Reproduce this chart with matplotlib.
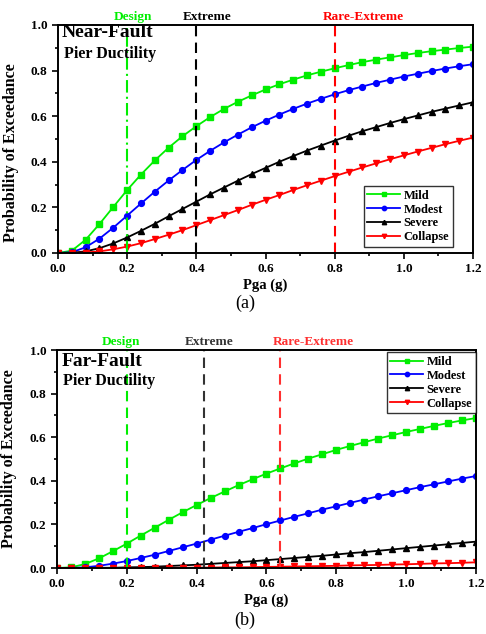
import matplotlib
matplotlib.use("Agg")
import matplotlib.pyplot as plt
from matplotlib.ticker import MultipleLocator
import numpy as np

# Pga sampling (g), one marker every 0.04 g
pga = [0.00, 0.04, 0.08, 0.12, 0.16, 0.20, 0.24, 0.28, 0.32, 0.36, 0.40,
       0.44, 0.48, 0.52, 0.56, 0.60, 0.64, 0.68, 0.72, 0.76, 0.80,
       0.84, 0.88, 0.92, 0.96, 1.00, 1.04, 1.08, 1.12, 1.16, 1.20]

# Near-fault fragility curves
near_mild = [0.000, 0.010, 0.058, 0.127, 0.202, 0.276, 0.344, 0.406, 0.462, 0.512, 0.556,
             0.596, 0.632, 0.663, 0.691, 0.717, 0.740, 0.760, 0.779, 0.795, 0.810,
             0.824, 0.837, 0.848, 0.858, 0.868, 0.877, 0.885, 0.892, 0.899, 0.905]
near_modest = [0.000, 0.003, 0.025, 0.063, 0.111, 0.164, 0.217, 0.269, 0.318, 0.364, 0.408,
               0.448, 0.485, 0.519, 0.551, 0.580, 0.607, 0.632, 0.655, 0.676, 0.696,
               0.714, 0.730, 0.746, 0.760, 0.774, 0.786, 0.798, 0.809, 0.819, 0.828]
near_severe = [0.000, 0.001, 0.007, 0.021, 0.042, 0.068, 0.097, 0.128, 0.161, 0.193, 0.225,
               0.257, 0.287, 0.317, 0.346, 0.373, 0.400, 0.425, 0.449, 0.471, 0.493,
               0.514, 0.534, 0.552, 0.570, 0.587, 0.603, 0.619, 0.633, 0.647, 0.661]
near_collapse = [0.000, 0.000, 0.002, 0.007, 0.016, 0.028, 0.043, 0.061, 0.080, 0.100, 0.122,
                 0.144, 0.166, 0.188, 0.211, 0.233, 0.254, 0.276, 0.297, 0.317, 0.337,
                 0.356, 0.375, 0.393, 0.411, 0.428, 0.445, 0.461, 0.477, 0.492, 0.506]

# Far-fault fragility curves
far_mild = [0.000, 0.003, 0.018, 0.044, 0.077, 0.112, 0.149, 0.185, 0.221, 0.256, 0.289,
            0.321, 0.351, 0.380, 0.407, 0.433, 0.457, 0.480, 0.502, 0.522, 0.542,
            0.560, 0.577, 0.594, 0.609, 0.624, 0.638, 0.652, 0.665, 0.677, 0.688]
far_modest = [0.000, 0.000, 0.003, 0.010, 0.020, 0.032, 0.046, 0.061, 0.078, 0.095, 0.112,
              0.130, 0.148, 0.166, 0.183, 0.201, 0.218, 0.235, 0.251, 0.268, 0.283,
              0.299, 0.314, 0.329, 0.343, 0.357, 0.371, 0.384, 0.397, 0.410, 0.422]
far_severe = [0.000, 0.000, 0.000, 0.001, 0.001, 0.003, 0.004, 0.006, 0.009, 0.012, 0.015,
              0.019, 0.023, 0.027, 0.031, 0.036, 0.041, 0.046, 0.051, 0.056, 0.062,
              0.068, 0.073, 0.079, 0.085, 0.091, 0.097, 0.103, 0.109, 0.115, 0.121]
far_collapse = [0.000, 0.000, 0.000, 0.000, 0.000, 0.000, 0.000, 0.001, 0.001, 0.001, 0.002,
                0.002, 0.003, 0.003, 0.004, 0.005, 0.006, 0.007, 0.008, 0.009, 0.010,
                0.012, 0.013, 0.014, 0.016, 0.017, 0.019, 0.021, 0.022, 0.024, 0.026]

damage_states = ["Mild", "Modest", "Severe", "Collapse"]
state_colors = ["#00ee00", "#0000ff", "#000000", "#ff0000"]
state_markers = ["s", "o", "^", "v"]

# hazard levels (g)
near_levels = [0.2, 0.4, 0.8]
far_levels = [0.2, 0.42, 0.64]
level_names = ["Design", "Extreme", "Rare-Extreme"]

plt.rcParams['font.family'] = ['Liberation Serif', 'DejaVu Serif']
plt.rcParams['font.weight'] = 'bold'


def draw_panel(ax, curves, levels, level_styles, label_x, title, legend_loc, legend_anchor, ylab_y):
    for vals, name, c, m in zip(curves, damage_states, state_colors, state_markers):
        ax.plot(pga, vals, color=c, marker=m, markersize=4.2, linewidth=1.3, label=name)

    for lv, name, (c, ls), tx in zip(levels, level_names, level_styles, label_x):
        ax.axvline(lv, color=c, linestyle=ls, linewidth=1.5)
        ax.text(tx, 1.035, name, color=c, fontsize=9.5, fontweight='bold', ha='center', va='center',
                transform=ax.get_xaxis_transform())

    ax.set_xlim(0, 1.2)
    ax.set_ylim(0, 1.0)
    ax.xaxis.set_major_locator(MultipleLocator(0.2))
    ax.xaxis.set_minor_locator(MultipleLocator(0.1))
    ax.yaxis.set_major_locator(MultipleLocator(0.2))
    ax.yaxis.set_minor_locator(MultipleLocator(0.1))
    ax.xaxis.set_major_formatter(plt.FuncFormatter(lambda v, p: f"{v:.1f}"))
    ax.yaxis.set_major_formatter(plt.FuncFormatter(lambda v, p: f"{v:.1f}"))
    ax.tick_params(which='both', direction='out', labelsize=9.5, width=1.2)
    ax.tick_params(which='major', length=4)
    ax.tick_params(which='minor', length=2.5)
    for s in ax.spines.values():
        s.set_linewidth(1.4)

    ax.set_xlabel("Pga (g)", fontsize=10.5, fontweight='bold', labelpad=2)
    ax.set_ylabel("Probability of Exceedance", fontsize=11.5, fontweight='bold')
    ax.yaxis.set_label_coords(-0.095, ylab_y)

    ax.text(0.010, title[2], title[0], fontsize=14, fontweight='bold', ha='left', va='center',
            transform=ax.transAxes)
    ax.text(0.014, title[3], title[1], fontsize=11.5, fontweight='bold', ha='left', va='center',
            transform=ax.transAxes)

    leg = ax.legend(loc=legend_loc, bbox_to_anchor=legend_anchor, borderaxespad=0,
                    fontsize=9, frameon=True, fancybox=False, handlelength=2.6,
                    handletextpad=0.3, labelspacing=0.15, borderpad=0.3, markerscale=0.75)
    leg.get_frame().set_edgecolor('black')
    leg.get_frame().set_linewidth(1.0)


fig = plt.figure(figsize=(4.86, 6.34), dpi=100)

ax_a = fig.add_axes([0.1193, 0.601, 0.854, 0.3596])
draw_panel(ax_a,
           [near_mild, near_modest, near_severe, near_collapse],
           near_levels,
           [("#00ee00", (0, (6, 2, 1, 2))), ("#000000", (0, (5, 3))), ("#ff0000", (0, (5, 3)))],
           [0.217, 0.432, 0.884],
           ("Near-Fault", "Pier Ductility", 0.967, 0.873),
           'lower right', (0.952, 0.026), 0.44)

ax_b = fig.add_axes([0.1173, 0.1041, 0.862, 0.3438])
draw_panel(ax_b,
           [far_mild, far_modest, far_severe, far_collapse],
           far_levels,
           [("#00ee00", (0, (5, 3))), ("#333333", (0, (5, 3))), ("#ff3030", (0, (5, 3)))],
           [0.182, 0.437, 0.734],
           ("Far-Fault", "Pier Ductility", 0.946, 0.858),
           'upper right', (1.0, 0.99), 0.5)

fig.text(0.504, 1 - 303 / 634, "(a)", fontsize=13, fontweight='normal', ha='center', va='center')
fig.text(0.504, 1 - 620 / 634, "(b)", fontsize=13, fontweight='normal', ha='center', va='center')

fig.savefig("out.png", dpi=100)
